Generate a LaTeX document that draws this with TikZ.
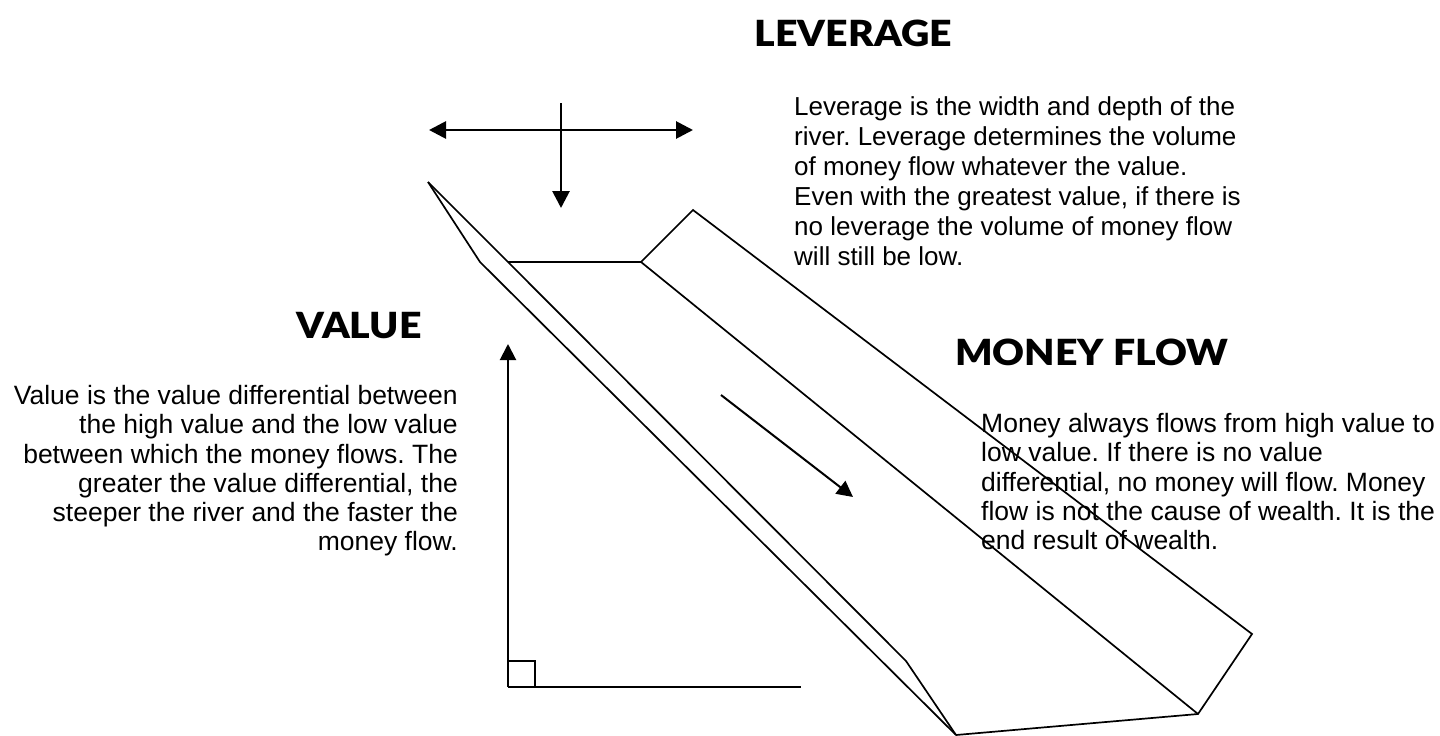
\documentclass[tikz,border=0pt]{standalone}
\usepackage{fontspec}
\setmainfont{Liberation Sans}
\IfFontExistsTF{Lato Black}
  {\newfontfamily\heavy{Lato Black}[FakeStretch=1.09]}
  {\newfontfamily\heavy{Liberation Sans Bold}[FakeBold=2.6,FakeStretch=1.05]}
\usetikzlibrary{arrows.meta}
\frenchspacing
\begin{document}
\begin{tikzpicture}[x=1pt,y=-1pt,
  bank/.style={line width=1.7pt,line join=miter},
  bigarrow/.style={line width=2.8pt,-{Triangle[length=17pt,width=17pt]}},
  thinarrow/.style={line width=2pt,-{Triangle[length=16pt,width=16pt]}},
  heading/.style={inner sep=0pt,font=\heavy\fontsize{36}{40}\selectfont},
  bodytext/.style={inner sep=0pt,font=\fontsize{26.5}{29.3}\selectfont}]
\useasboundingbox (0,0) rectangle (1440,736);

% river channel corners
\coordinate (tip)  at (428,182);
\coordinate (olft) at (480,262);
\coordinate (ilft) at (508,262);
\coordinate (ibnd) at (906,661);
\coordinate (btm)  at (956,735);
\coordinate (irgt) at (641,262);
\coordinate (orgt) at (693,210);
\coordinate (rend) at (1252,634);
\coordinate (rbtm) at (1198,714);

% left bank
\draw[bank] (tip) -- (olft) -- (btm);
\draw[bank] (tip) -- (ilft) -- (ibnd) -- (btm);
% river bed and right bank
\draw[bank] (ilft) -- (irgt) -- (orgt) -- (rend) -- (rbtm) -- (btm);
\draw[bank] (irgt) -- (rbtm);

% width and depth arrows
\coordinate (wl) at (429,130);
\coordinate (wr) at (693,130);
\coordinate (dt) at (561,103);
\coordinate (db) at (561,208);
\draw[bigarrow,{Triangle[length=17pt,width=17pt]}-{Triangle[length=17pt,width=17pt]}] (wl) -- (wr);
\draw[bigarrow] (dt) -- (db);

% flow direction
\coordinate (fs) at (721,395);
\coordinate (fe) at (853,497);
\draw[thinarrow] (fs) -- (fe);

% slope triangle
\coordinate (corner) at (508,687);
\coordinate (vtop) at (508,344);
\coordinate (hend) at (801,687);
\draw[thinarrow] (corner) -- (vtop);
\draw[line width=2pt] (corner) -- (hend);
\draw[line width=2pt] (508,661) -- (535,661) -- (535,687);

% headings
\node[heading,anchor=base east] (levhead) at (952,46) {LEVERAGE};
\node[heading,anchor=base east] (valhead) at (422,338) {VALUE};
\node[heading,anchor=base west] (flowhead) at (955,365) {MONEY FLOW};

% descriptions
\node[bodytext,anchor=north west,align=left,font=\fontsize{26}{30}\selectfont] (levtext) at (794,96)
  {Leverage is the width and depth of the\\
   river. Leverage determines the volume\\
   of money flow whatever the value.\\
   Even with the greatest value, if there is\\
   no leverage the volume of money flow\\
   will still be low.};
\node[bodytext,anchor=north east,align=right] (valtext) at (458,385)
  {Value is the value differential between\\
   the high value and the low value\\
   between which the money flows. The\\
   greater the value differential, the\\
   steeper the river and the faster the\\
   money flow.};
\node[bodytext,anchor=north west,align=left] (flowtext) at (981,413)
  {Money always flows from high value to\\
   low value. If there is no value\\
   differential, no money will flow. Money\\
   flow is not the cause of wealth. It is the\\
   end result of wealth.};
\end{tikzpicture}
\end{document}
